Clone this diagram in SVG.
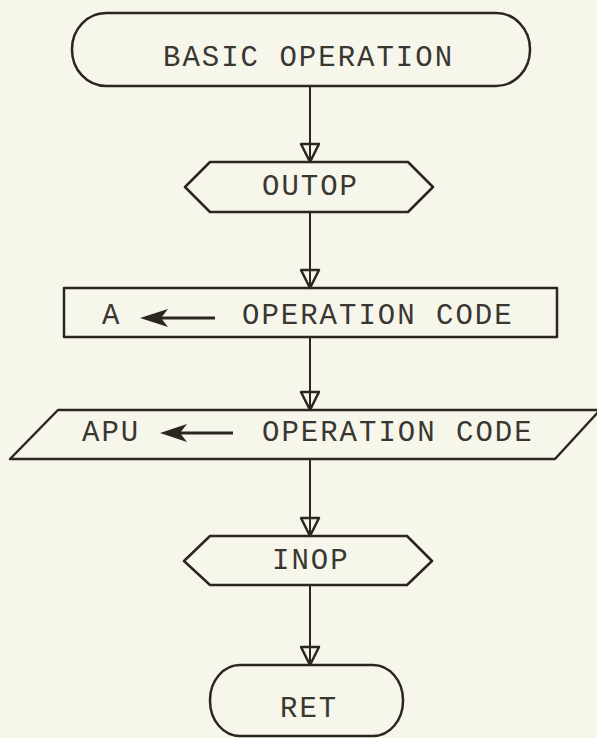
<svg xmlns="http://www.w3.org/2000/svg" width="597" height="738" viewBox="0 0 597 738">
<style>
.shape{fill:none;stroke:#2b2622;stroke-width:2.5;stroke-linejoin:round}
.lbl{font-family:"Liberation Mono","DejaVu Sans Mono",monospace;font-size:29px;letter-spacing:2px;fill:#3a3632}
.conn{stroke:#2b2622;stroke-width:2}
.ah{fill:none;stroke:#2b2622;stroke-width:2.5;stroke-linejoin:round}
.arr{fill:#2b2622;stroke:none}
.arrline{stroke:#2b2622;stroke-width:3}
</style>
<rect width="597" height="738" fill="#f6f6ea"/>
<g id="connectors">
<line class="conn" x1="310" y1="86" x2="310" y2="162"/>
<path class="ah" d="M301,144 L319,144 L310,162 Z"/>
<line class="conn" x1="310" y1="212" x2="310" y2="288"/>
<path class="ah" d="M301,270 L319,270 L310,288 Z"/>
<line class="conn" x1="310" y1="337" x2="310" y2="410"/>
<path class="ah" d="M301,392 L319,392 L310,410 Z"/>
<line class="conn" x1="310" y1="459" x2="310" y2="536"/>
<path class="ah" d="M301,518 L319,518 L310,536 Z"/>
<line class="conn" x1="310" y1="585" x2="310" y2="665"/>
<path class="ah" d="M301,647 L319,647 L310,665 Z"/>
</g>
<g id="start">
<rect class="shape" x="72" y="13" width="458" height="73" rx="34" ry="36"/>
<text class="lbl" x="163" y="66">BASIC OPERATION</text>
</g>
<g id="outop">
<polygon class="shape" points="185,187 210,162 408,162 433,187 408,212 210,212"/>
<text class="lbl" x="262" y="195">OUTOP</text>
</g>
<g id="assign">
<rect class="shape" x="64" y="288" width="493" height="49"/>
<text class="lbl" x="102" y="324">A</text>
<line class="arrline" x1="158" y1="318" x2="215" y2="318"/>
<path class="arr" d="M140,318 L168,309 L161,318 L168,327 Z"/>
<text class="lbl" x="242" y="324">OPERATION CODE</text>
</g>
<g id="output">
<polygon class="shape" points="58,410 600,410 555,459 10,459"/>
<text class="lbl" x="82" y="441">APU</text>
<line class="arrline" x1="178" y1="433" x2="233" y2="433"/>
<path class="arr" d="M160,433 L187,424 L180,433 L187,442 Z"/>
<text class="lbl" x="262" y="441">OPERATION CODE</text>
</g>
<g id="inop">
<polygon class="shape" points="184,561 210,536 407,536 432,561 407,585 210,585"/>
<text class="lbl" x="272" y="569">INOP</text>
</g>
<g id="ret">
<rect class="shape" x="210" y="665" width="193" height="71" rx="30" ry="35"/>
<text class="lbl" x="280" y="717">RET</text>
</g>
</svg>
